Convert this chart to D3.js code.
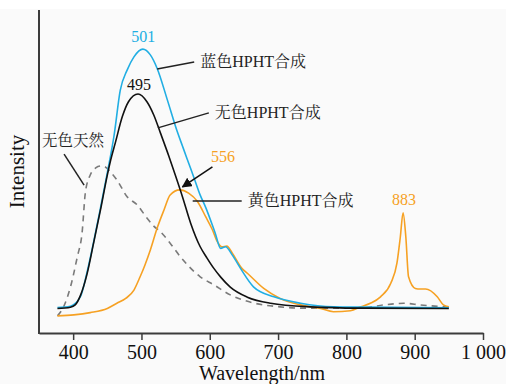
<!DOCTYPE html>
<html>
<head>
<meta charset="utf-8">
<script src="https://cdn.jsdelivr.net/npm/d3@7"></script>
<style>
  body { margin: 0; background: #fff; }
  svg { display: block; }
</style>
</head>
<body>
<div id="chart"></div>
<script>
const width = 506, height = 384;
const margin = {top: 10, right: 23, bottom: 51, left: 39};

// wavelength (nm) / intensity (a.u.)
const blueWl = [377, 396, 411, 420, 430, 440, 450, 460, 469, 479, 489, 502, 513, 523, 538, 552, 560, 567, 577, 586, 594, 608, 616, 623, 633, 645, 664, 694, 733, 781, 830, 950];
const blueI  = [7.9, 8.3, 11.4, 18.5, 28.2, 38.7, 49.6, 61.3, 75.2, 81.4, 85.5, 87.9, 86.1, 81.9, 72.1, 62.6, 57.9, 53.8, 48.0, 42.7, 38.9, 30.9, 26.2, 26.7, 24.1, 20.0, 14.3, 11.2, 9.2, 8.1, 8.0, 7.8];

const blackWl = [377, 396, 403, 411, 420, 430, 440, 450, 455, 462, 472, 481, 495, 508, 518, 528, 540, 550, 560, 572, 586, 596, 606, 616, 630, 655, 689, 747, 820, 950];
const blackI  = [7.6, 8.0, 8.7, 11.8, 18.0, 27.9, 38.1, 48.9, 53.6, 59.1, 67.0, 71.6, 74.0, 71.6, 67.5, 61.8, 54.8, 48.6, 42.2, 34.0, 26.7, 23.2, 20.0, 17.3, 14.2, 11.1, 9.2, 8.1, 7.7, 7.6];

const yellowWl = [377, 401, 425, 450, 464, 477, 489, 498, 505, 513, 523, 533, 542, 556, 569, 582, 594, 604, 611, 618, 625, 633, 647, 655, 679, 703, 733, 762, 781, 806, 821, 835, 850, 865, 874, 879, 883, 887, 891, 901, 908, 916, 933, 942, 950];
const yellowI  = [5.3, 5.6, 6.3, 7.6, 9.2, 10.7, 13.3, 17.4, 21.0, 25.7, 32.5, 38.1, 42.7, 44.3, 43.3, 40.7, 36.0, 31.9, 28.3, 26.7, 26.9, 24.7, 20.0, 18.5, 13.8, 10.7, 8.7, 7.6, 6.6, 6.9, 8.1, 9.2, 11.2, 15.4, 21.6, 29.8, 37.2, 29.8, 17.4, 13.8, 13.6, 13.6, 11.2, 8.7, 8.1];

const naturalWl = [377, 386, 396, 406, 413, 418, 425, 433, 440, 447, 455, 464, 479, 494, 508, 518, 528, 542, 557, 569, 586, 606, 630, 664, 703, 733, 820, 855, 884, 908, 950];
const naturalI  = [5.3, 8.1, 14.2, 23.5, 30.9, 43.7, 48.9, 51.1, 51.7, 51.4, 49.8, 47.4, 42.2, 39.6, 35.6, 33.1, 31.3, 27.8, 23.6, 20.7, 17.4, 14.9, 11.8, 9.3, 8.1, 7.7, 7.7, 8.7, 9.2, 8.7, 8.0];

const xTicks = [400, 500, 600, 700, 800, 900, 1000];

const blue = "#21aee3", orange = "#f6a123", grey = "#7a7a7a", ink = "#111";
const serif = "'Liberation Serif', 'Times New Roman', serif";

const x = d3.scaleLinear().domain([350, 1000]).range([margin.left, width - margin.right]);
const y = d3.scaleLinear().domain([0, 100]).range([height - margin.bottom, margin.top]);

const svg = d3.select("#chart").append("svg")
    .attr("width", width)
    .attr("height", height)
    .style("font-family", "'Liberation Serif', 'Times New Roman', 'Noto Serif CJK SC', 'Noto Sans CJK SC', serif");

svg.append("rect")
    .attr("x", 0).attr("y", 9)
    .attr("width", width).attr("height", height - 9)
    .attr("fill", "#fafafa");

const line = d3.line()
    .x(d => x(d[0]))
    .y(d => y(d[1]))
    .curve(d3.curveMonotoneX);

function pairs(wl, v) { return wl.map((w, i) => [w, v[i]]); }

const series = [
    {data: pairs(naturalWl, naturalI), color: grey, dash: "6,5"},
    {data: pairs(yellowWl, yellowI), color: orange, dash: null},
    {data: pairs(blueWl, blueI), color: blue, dash: null},
    {data: pairs(blackWl, blackI), color: ink, dash: null}
];

svg.append("g")
  .selectAll("path")
  .data(series)
  .join("path")
    .attr("d", d => line(d.data))
    .attr("fill", "none")
    .attr("stroke", d => d.color)
    .attr("stroke-width", 1.6)
    .attr("stroke-dasharray", d => d.dash);

// axes
const fmt = d3.formatLocale({decimal: ".", thousands: " ", grouping: [3], currency: ["", ""]}).format(",d");
const xAxis = svg.append("g")
    .attr("transform", `translate(0,${y(0)})`)
    .call(d3.axisBottom(x).tickValues(xTicks).tickFormat(fmt).tickSize(7).tickSizeOuter(0).tickPadding(5));
xAxis.select(".domain").attr("stroke", "#3c3c3c").attr("stroke-width", 2);
xAxis.selectAll(".tick line").attr("stroke", "#3c3c3c").attr("stroke-width", 1.5);
xAxis.selectAll(".tick text")
    .attr("fill", "#111")
    .style("font-family", serif)
    .style("font-size", "20px");

svg.append("line")
    .attr("x1", x(350)).attr("x2", x(350))
    .attr("y1", y(100)).attr("y2", y(0) + 1)
    .attr("stroke", "#3c3c3c").attr("stroke-width", 2);

svg.append("text")
    .attr("x", (x(350) + x(1000)) / 2 + 1)
    .attr("y", 380)
    .attr("text-anchor", "middle")
    .attr("fill", "#111")
    .style("font-family", serif)
    .style("font-size", "20px")
    .text("Wavelength/nm");

svg.append("text")
    .attr("transform", `translate(24,${y(50)}) rotate(-90)`)
    .attr("text-anchor", "middle")
    .attr("fill", "#111")
    .style("font-family", serif)
    .style("font-size", "21px")
    .text("Intensity");

// annotations
const peakLabels = [
    {text: "501", wl: 501, i: 87.9, dy: -7, color: blue},
    {text: "495", wl: 495, i: 74.0, dy: -4, color: ink},
    {text: "556", wl: 618, i: 50.8, dy: -7, color: orange},
    {text: "883", wl: 883, i: 37.2, dy: -8, color: orange}
];
svg.append("g")
  .selectAll("text")
  .data(peakLabels)
  .join("text")
    .attr("x", d => x(d.wl) + 1)
    .attr("y", d => y(d.i) + d.dy)
    .attr("text-anchor", "middle")
    .attr("fill", d => d.color)
    .style("font-family", serif)
    .style("font-size", "16px")
    .text(d => d.text);

const callouts = [
    {text: "蓝色HPHT合成", wl: 523, i: 81.7, dx: 37, dy: -7, size: 16},
    {text: "无色HPHT合成", wl: 524, i: 63.5, dx: 51, dy: -15, size: 16},
    {text: "黄色HPHT合成", wl: 575, i: 40.9, dx: 49, dy: 0, size: 16},
    {text: "无色天然", wl: 416, i: 45.8, dx: -20, dy: -31, size: 15.5}
];
const cg = svg.append("g");
callouts.forEach(c => {
    const x0 = x(c.wl), y0 = y(c.i);
    cg.append("line")
        .attr("x1", x0).attr("y1", y0)
        .attr("x2", x0 + c.dx).attr("y2", y0 + c.dy)
        .attr("stroke", "#222").attr("stroke-width", 1.5);
    const left = c.dx < 0;
    cg.append("text")
        .attr("x", left ? x0 + c.dx - 22 : x0 + c.dx + 6)
        .attr("y", left ? y0 + c.dy - 8 : y0 + c.dy + 5)
        .attr("fill", "#222")
        .style("font-size", c.size + "px")
        .text(c.text);
});

// arrow to the 556 peak
svg.append("defs").append("marker")
    .attr("id", "head")
    .attr("viewBox", "0 0 10 10")
    .attr("refX", 9).attr("refY", 5)
    .attr("markerWidth", 10).attr("markerHeight", 10)
    .attr("markerUnits", "userSpaceOnUse")
    .attr("orient", "auto")
  .append("path")
    .attr("d", "M0,0L10,5L0,10z")
    .attr("fill", "#111");
svg.append("line")
    .attr("x1", x(560) + 30).attr("y1", y(44.3) - 23)
    .attr("x2", x(560)).attr("y2", y(44.3) - 3)
    .attr("stroke", "#111").attr("stroke-width", 1.5)
    .attr("marker-end", "url(#head)");
</script>
</body>
</html>
